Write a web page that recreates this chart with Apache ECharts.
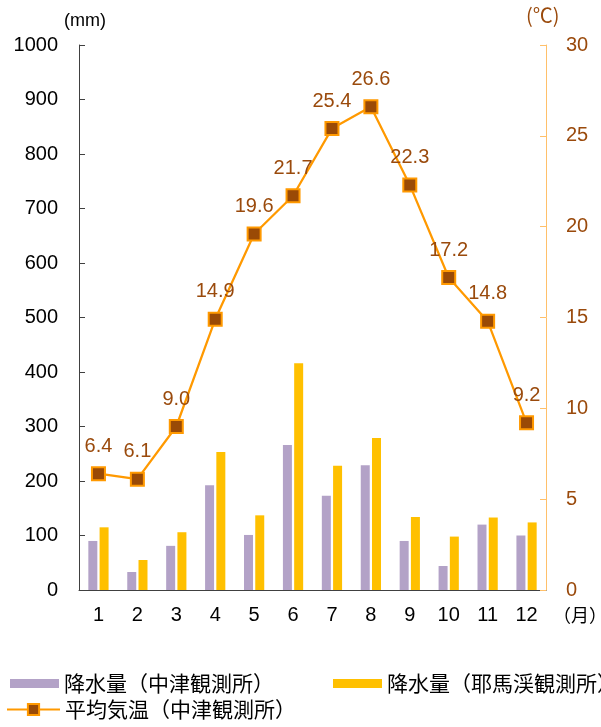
<!DOCTYPE html>
<html>
<head>
<meta charset="utf-8">
<script src="https://cdn.jsdelivr.net/npm/echarts@6/dist/echarts.min.js"></script>
<style>html,body{margin:0;padding:0;background:#fff;}#c{width:601px;height:727px;}</style>
</head>
<body>
<div id="c"></div>
<script>
const months = ['1','2','3','4','5','6','7','8','9','10','11','12'];
const rainNakatsu = [90, 33, 81, 192, 101, 266, 173, 229, 90, 44, 120, 100];
const rainYabakei = [115, 55, 106, 253, 137, 416, 228, 279, 134, 98, 133, 124];
const tempNakatsu = [6.4, 6.1, 9.0, 14.9, 19.6, 21.7, 25.4, 26.6, 22.3, 17.2, 14.8, 9.2];
const leftTicks = [0, 1000, 100];
const rightTicks = [0, 30, 5];
const names = ['降水量（中津観測所）', '降水量（耶馬渓観測所）', '平均気温（中津観測所）'];

const CJK = '"Noto Sans CJK JP", sans-serif';
const NUM = '"Liberation Sans", Arial, sans-serif';
const BROWN = '#9a4a0c';
const legendText = {fontSize: 21, color: '#000', fontFamily: CJK};
const chart = echarts.init(document.getElementById('c'), null, {renderer: 'canvas'});
chart.setOption({
  animation: false,
  textStyle: {fontFamily: NUM},
  grid: {left: 79, right: 55, top: 45, bottom: 137, containLabel: false},
  legend: [
    {
      data: [names[0]], left: 10, top: 673, itemWidth: 49, itemHeight: 9,
      icon: 'rect', padding: 0, textStyle: legendText
    },
    {
      data: [names[1]], left: 333, top: 673, itemWidth: 49, itemHeight: 9, width: 400,
      icon: 'rect', padding: 0, textStyle: legendText
    },
    {
      data: [names[2]], left: 6, top: 699, itemWidth: 53, itemHeight: 14, padding: 0,
      textStyle: legendText
    }
  ],
  xAxis: {
    type: 'category', data: months,
    axisLine: {lineStyle: {color: '#404040', width: 1}},
    axisTick: {inside: true, length: 5, lineStyle: {color: '#404040'}},
    axisLabel: {fontSize: 20, color: '#000', margin: 15, fontFamily: NUM}
  },
  yAxis: [
    {
      type: 'value', min: leftTicks[0], max: leftTicks[1], interval: leftTicks[2],
      axisLine: {show: true, lineStyle: {color: '#404040'}},
      axisTick: {show: true, inside: true, length: 6, lineStyle: {color: '#404040'}},
      axisLabel: {fontSize: 20, color: '#000', margin: 21, fontFamily: NUM, formatter: v => String(v)},
      splitLine: {show: false}
    },
    {
      type: 'value', min: rightTicks[0], max: rightTicks[1], interval: rightTicks[2], position: 'right',
      axisLine: {show: true, lineStyle: {color: '#ffc06a'}},
      axisTick: {show: true, inside: true, length: 6, lineStyle: {color: '#ffc06a'}},
      axisLabel: {fontSize: 20, color: BROWN, margin: 20, fontFamily: NUM, formatter: v => String(v)},
      splitLine: {show: false}
    }
  ],
  series: [
    {
      name: names[0], type: 'bar', data: rainNakatsu, barWidth: 9, barGap: '25%',
      itemStyle: {color: '#b3a2c7'}
    },
    {
      name: names[1], type: 'bar', data: rainYabakei, barWidth: 9,
      itemStyle: {color: '#ffc000'}
    },
    {
      name: names[2], type: 'line', yAxisIndex: 1, data: tempNakatsu,
      symbol: 'rect', symbolSize: 13,
      lineStyle: {color: '#ff9900', width: 2.25},
      itemStyle: {color: '#9a4a06', borderColor: '#ff9900', borderWidth: 2},
      label: {show: true, position: 'top', distance: 10, fontSize: 20, color: BROWN,
        fontFamily: NUM, formatter: p => p.value.toFixed(1)},
      z: 5
    }
  ],
  graphic: [
    {type: 'text', left: 64, top: 12, style: {text: '(mm)', fontSize: 18, fill: '#000', fontFamily: NUM}},
    {type: 'text', left: 526, top: 5, style: {text: '(℃)', fontSize: 20, fill: BROWN, fontFamily: CJK}},
    {type: 'text', left: 553, top: 606, style: {text: '（月）', fontSize: 18, fill: '#000', fontFamily: CJK}}
  ]
});
</script>
</body>
</html>
